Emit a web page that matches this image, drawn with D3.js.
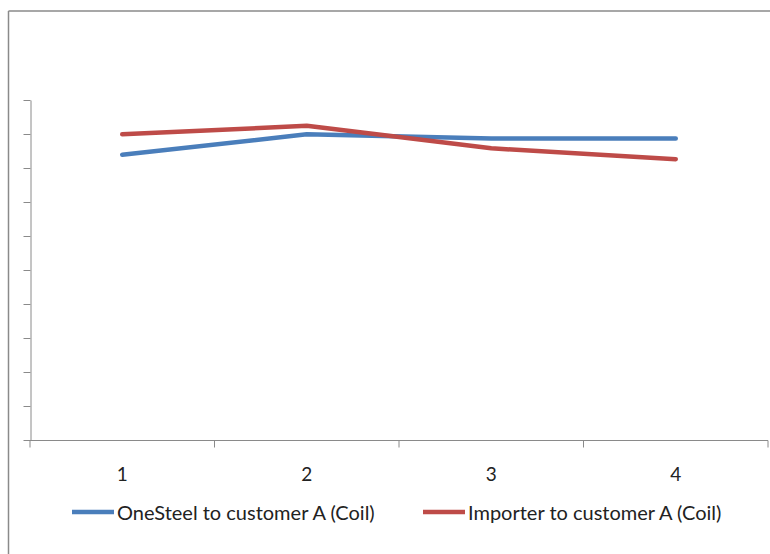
<!DOCTYPE html>
<html><head><meta charset="utf-8">
<script src="https://cdn.jsdelivr.net/npm/d3@7"></script>
<style>body{margin:0;background:#fff}svg{display:block}text{font-family:Lato,"Open Sans",sans-serif;fill:#222}</style>
</head><body><svg id="c" width="770" height="554"></svg>
<script>
const categories = ["1","2","3","4"];
const seriesNames = ["OneSteel to customer A (Coil)","Importer to customer A (Coil)"];
const oneSteel = [8.39, 8.99, 8.87, 8.87];
const importer = [8.99, 9.24, 8.58, 8.26];
const yTicks = [0,1,2,3,4,5,6,7,8,9,10];
const colors = ["#4a7ebb","#be4b48"];

const svg = d3.select("#c");
// outer frame (top and left)
svg.append("line").attr("x1",8.5).attr("x2",770).attr("y1",11).attr("y2",11).attr("stroke","#8a8a8a").attr("stroke-width",1.5);
svg.append("line").attr("x1",8.5).attr("x2",8.5).attr("y1",11).attr("y2",554).attr("stroke","#8a8a8a").attr("stroke-width",1.5);

const x = d3.scaleBand().domain(categories).range([30,768]);
const y = d3.scaleLinear().domain([0,10]).range([440,100]);

const gx = svg.append("g").attr("transform","translate(0,440.5)")
  .call(d3.axisBottom(x).tickSize(0).tickPadding(0).tickFormat(""));
gx.select(".domain").attr("stroke","#8a8a8a").attr("d","M30,0H768");
// band boundary ticks
const bounds = categories.map(c=>x(c)).concat([x.range()[1]]);
gx.selectAll("line.b").data(bounds).enter().append("line").attr("class","b")
  .attr("x1",d=>d).attr("x2",d=>d).attr("y1",0).attr("y2",7).attr("stroke","#8a8a8a");
gx.selectAll(".tick").remove();
svg.append("g").selectAll("text").data(categories).enter().append("text")
  .attr("x",d=>x(d)+x.bandwidth()/2).attr("y",481).attr("text-anchor","middle")
  .style("font-size","19px").text(d=>d);

const gy = svg.append("g").attr("transform","translate(30.5,0)")
  .call(d3.axisLeft(y).tickValues(yTicks).tickSize(7).tickSizeOuter(0).tickFormat(""));
gy.select(".domain").attr("stroke","#8a8a8a");
gy.selectAll(".tick line").attr("stroke","#8a8a8a");

const line = d3.line().x((d,i)=>x(categories[i])+x.bandwidth()/2).y(d=>y(d));
[oneSteel, importer].forEach((s,k)=>{
  svg.append("path").datum(s).attr("d",line).attr("fill","none")
    .attr("stroke",colors[k]).attr("stroke-width",4.5).attr("stroke-linecap","round").attr("stroke-linejoin","round");
});

// legend
const legX = [72, 423];
seriesNames.forEach((n,k)=>{
  svg.append("line").attr("x1",legX[k]).attr("x2",legX[k]+42).attr("y1",512).attr("y2",512)
    .attr("stroke",colors[k]).attr("stroke-width",4.5);
  svg.append("text").attr("x",legX[k]+45).attr("y",520).style("font-size","20px").text(n);
});
</script></body></html>
